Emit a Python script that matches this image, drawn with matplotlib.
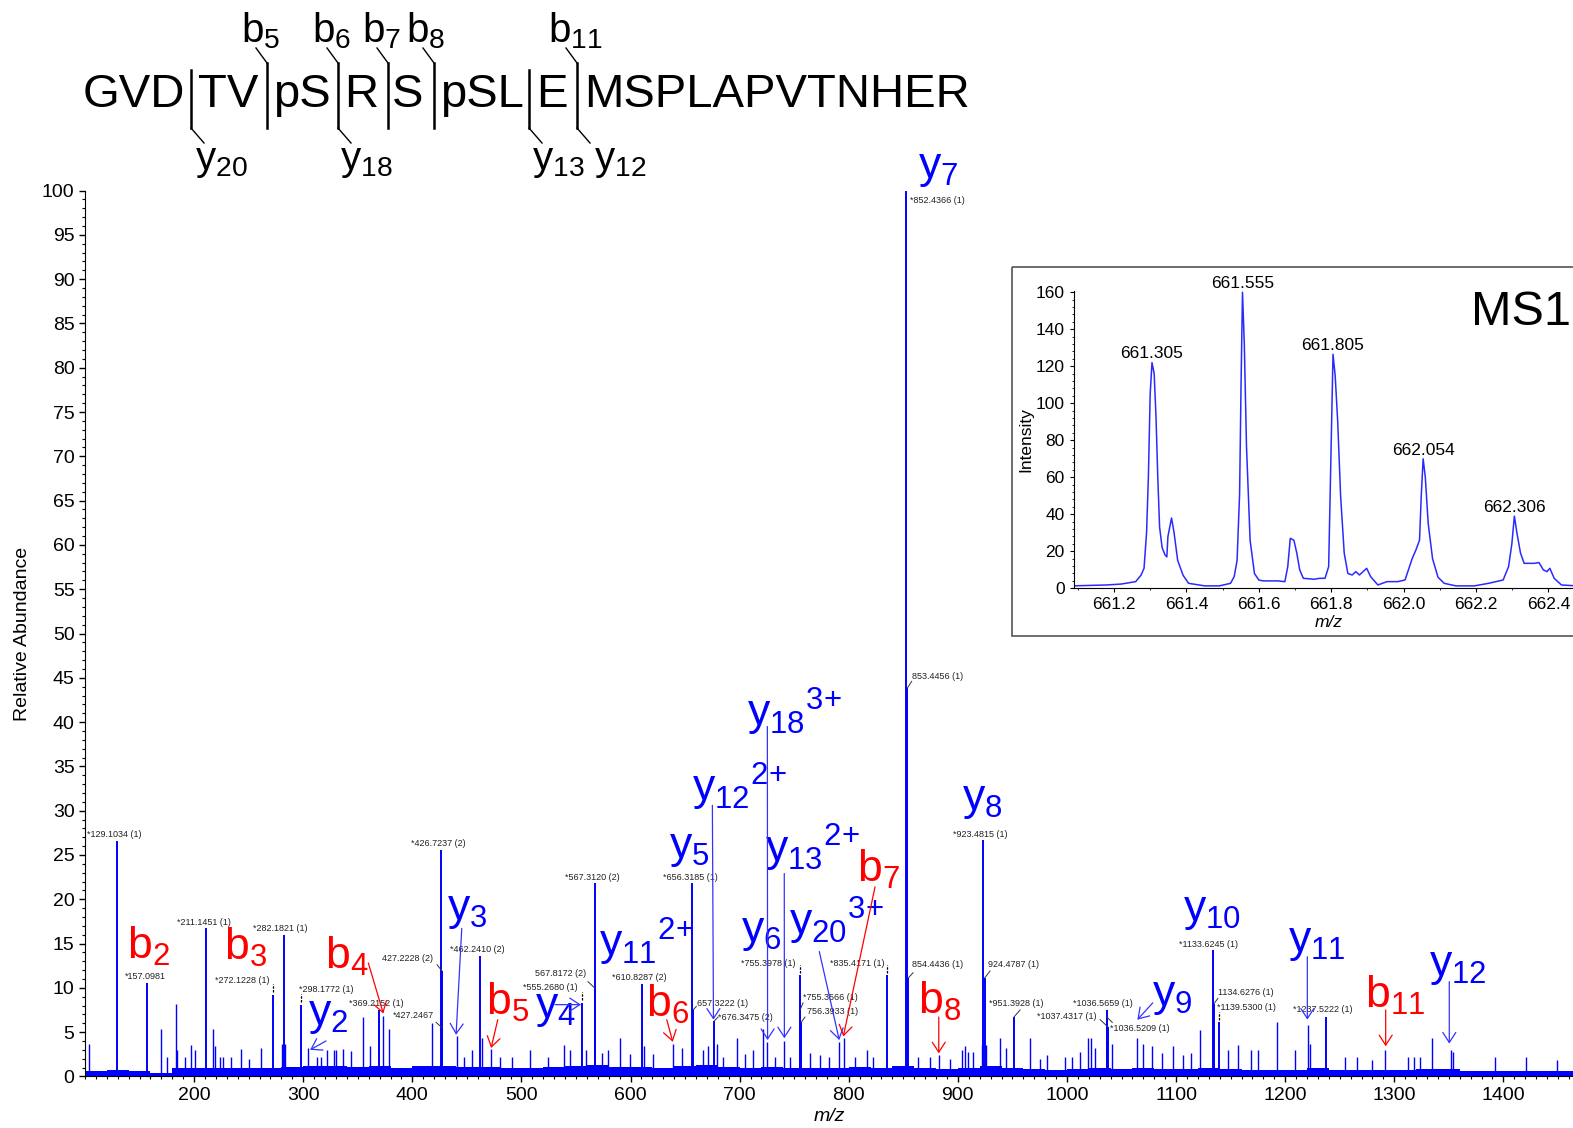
import matplotlib
matplotlib.use('Agg')
import numpy as np
import matplotlib.pyplot as plt
from matplotlib.patches import Rectangle
from matplotlib.ticker import MultipleLocator

plt.rcParams['font.family'] = ['Liberation Sans', 'DejaVu Sans']
plt.rcParams['mathtext.fontset'] = 'custom'
plt.rcParams['mathtext.rm'] = 'Liberation Sans'
plt.rcParams['mathtext.it'] = 'Liberation Sans:italic'

BLUE = '#0000ff'
RED = '#ff0000'

# ---- MS2 spectrum: annotated peaks (m/z, relative abundance) ----
ann_mz = [129.1034, 157.0981, 211.1451, 272.1228, 282.1821, 298.1772, 369.2152,
          427.2228, 427.2467, 426.7237, 462.2410, 555.2680, 567.8172, 567.3120,
          610.8287, 656.3185, 657.3222, 676.3475, 755.3978, 755.3566, 756.3933,
          835.4171, 852.4366, 853.4456, 854.4436, 923.4815, 924.4787, 951.3928,
          1036.5659, 1037.4317, 1036.5209, 1133.6245, 1134.6276, 1139.5300, 1237.5222]
ann_int = [26.6, 10.6, 16.7, 9.2, 16.0, 8.1, 7.5,
           11.9, 5.5, 25.6, 13.6, 8.3, 9.9, 21.8,
           10.4, 21.8, 7.5, 6.2, 11.4, 7.5, 6.1,
           11.4, 100.0, 43.8, 11.1, 26.7, 11.1, 6.7,
           7.5, 5.6, 6.7, 14.3, 8.2, 6.1, 6.7]
ann_star = [1, 1, 1, 1, 1, 1, 1,
            0, 1, 1, 1, 1, 0, 1,
            1, 1, 0, 1, 1, 1, 0,
            1, 1, 0, 0, 1, 0, 1,
            1, 1, 1, 1, 0, 1, 1]
ann_charge = ['1', '', '1', '1', '1', '1', '1',
              '2', '', '2', '2', '1', '2', '2',
              '2', '1', '1', '2', '1', '1', '1',
              '1', '1', '1', '1', '1', '1', '1',
              '1', '1', '1', '1', '1', '1', '1']
# where each peak label sits (left edge, vertical centre) in data units
ann_tx = [102.2, 136.7, 184.1, 219.2, 254.3, 296.5, 342.3,
          372.0, 382.1, 398.8, 434.6, 501.8, 512.5, 540.0,
          583.4, 630.1, 660.7, 680.5, 701.0, 758.4, 761.5,
          782.8, 856.2, 857.7, 857.7, 895.9, 927.9, 928.8,
          1005.8, 972.3, 1039.5, 1103.0, 1138.7, 1137.2, 1206.9]
ann_ty = [27.3, 11.3, 17.4, 10.8, 16.7, 9.8, 8.2,
          13.3, 6.9, 26.3, 14.3, 10.0, 11.6, 22.5,
          11.2, 22.5, 8.2, 6.7, 12.8, 8.9, 7.3,
          12.8, 98.9, 45.2, 12.6, 27.3, 12.6, 8.2,
          8.2, 6.8, 5.4, 14.9, 9.5, 7.8, 7.5]
# leader lines: start point near the label (None = no leader)
lead_x = [None, None, None, None, None, None, None,
          422.7, 421.8, None, None, None, 561.0, None,
          None, None, 660.3, 680.2, None, 758.1, 759.9,
          None, None, 857.7, 858.9, None, 929.5, 957.0,
          None, 1030.4, 1041.5, None, 1138.3, None, None]
lead_y = [None, None, None, None, None, None, None,
          12.6, 6.1, None, None, None, 10.7, None,
          None, None, 7.9, 6.7, None, 8.3, 6.7,
          None, None, 44.6, 11.7, None, 11.9, 7.5,
          None, 6.4, 6.1, None, 8.8, None, None]
dash_mz = [272.1228, 298.1772, 555.2680, 755.3978, 835.4171, 1139.5300]
dash_int = [9.2, 8.1, 8.3, 11.4, 11.4, 6.1]

# unlabelled fragment / noise peaks
minor_mz = [104.0, 169.4, 175.5, 183.4, 184.6, 191.4, 196.9, 200.9, 217.1, 219.2,
            223.8, 226.2, 233.6, 242.7, 250.6, 261.1, 280.3, 283.3, 304.2, 312.4,
            316.1, 321.6, 328.3, 330.1, 336.8, 343.6, 354.6, 361.2, 373.2, 378.3,
            417.8, 441.2, 447.7, 454.4, 464.2, 472.2, 480.4, 491.1, 507.9, 524.7,
            539.4, 544.6, 558.9, 573.6, 579.7, 590.4, 599.5, 612.7, 620.9, 639.2,
            646.9, 666.7, 671.3, 679.0, 685.1, 697.3, 705.0, 712.5, 721.7, 725.4,
            732.4, 741.0, 746.2, 764.5, 773.7, 782.2, 791.4, 795.3, 805.8, 816.5,
            822.0, 863.8, 874.5, 882.4, 892.8, 903.5, 906.5, 909.6, 914.2, 922.5,
            925.5, 938.6, 943.9, 966.1, 975.3, 981.4, 998.2, 1004.3, 1011.9, 1019.6,
            1022.0, 1025.7, 1041.0, 1063.9, 1070.0, 1077.7, 1086.9, 1097.5, 1106.7, 1113.7,
            1121.9, 1148.0, 1157.1, 1168.7, 1175.4, 1192.8, 1209.0, 1220.6, 1222.7, 1254.8,
            1265.5, 1279.3, 1291.5, 1312.9, 1318.4, 1323.6, 1334.9, 1351.7, 1354.1, 1392.3,
            1420.4, 1448.9]
minor_int = [3.7, 5.4, 2.2, 8.2, 3.0, 2.2, 3.6, 3.0, 5.4, 3.4,
             2.2, 2.2, 2.2, 3.1, 2.0, 3.2, 3.7, 3.7, 3.2, 2.2,
             2.2, 3.0, 3.0, 3.0, 3.1, 2.9, 6.7, 3.4, 6.8, 5.3,
             6.0, 4.6, 2.2, 3.0, 4.3, 3.1, 2.2, 2.2, 3.0, 2.2,
             3.5, 3.0, 3.0, 2.6, 3.0, 4.3, 2.5, 3.4, 2.5, 3.7,
             3.2, 3.0, 3.4, 3.7, 2.2, 4.3, 2.5, 3.0, 5.4, 3.9,
             2.2, 4.0, 2.2, 2.6, 2.4, 2.2, 3.9, 4.3, 2.2, 3.0,
             2.2, 2.2, 2.2, 2.4, 2.0, 3.0, 3.4, 2.8, 2.8, 3.6,
             3.5, 4.3, 3.2, 4.3, 2.0, 2.4, 2.2, 2.2, 2.8, 4.3,
             4.3, 3.2, 3.7, 4.3, 3.7, 3.4, 2.6, 3.4, 2.4, 2.6,
             5.2, 3.0, 3.5, 3.0, 3.0, 6.1, 3.0, 5.8, 3.7, 2.2,
             2.2, 1.9, 3.0, 2.2, 2.2, 2.2, 4.3, 3.0, 2.8, 2.2,
             2.2, 1.9]

# baseline noise level in 20 m/z bins from 100 to 1480
noise_level = [0.6, 0.7, 0.6, 0.4, 0.9, 1.0, 1.0, 1.0, 1.0, 1.1,
               1.2, 1.2, 1.1, 1.2, 1.0, 1.2, 1.2, 1.1, 1.1, 0.9,
               1.0, 1.1, 1.2, 1.3, 1.1, 1.1, 1.0, 1.2, 1.3, 1.1,
               1.0, 1.1, 1.0, 1.0, 1.0, 1.1, 0.9, 1.2, 0.9, 0.8,
               1.0, 1.2, 1.0, 0.8, 0.7, 0.8, 1.0, 0.8, 0.9, 0.8,
               0.8, 1.0, 0.8, 0.7, 0.7, 0.7, 0.9, 0.7, 0.7, 0.7,
               0.7, 0.8, 0.8, 0.6, 0.6, 0.6, 0.6, 0.6, 0.6]

# fragment ion labels
ion_text = ['b_{2}', 'b_{3}', 'b_{4}', 'y_{2}', 'y_{3}', 'b_{5}', 'y_{4}', 'y_{11}{}^{2{+}}',
            'b_{6}', 'y_{5}', 'y_{12}{}^{2{+}}', 'y_{18}{}^{3{+}}', 'y_{6}', 'y_{13}{}^{2{+}}',
            'y_{20}{}^{3{+}}', 'b_{7}', 'y_{7}', 'b_{8}', 'y_{8}', 'y_{9}', 'y_{10}', 'y_{11}',
            'b_{11}', 'y_{12}']
ion_x = [138.3, 227.4, 320.0, 304.7, 431.5, 467.5, 512.5, 571.4,
         614.2, 635.6, 656.1, 706.5, 701.0, 723.3,
         745.3, 807.8, 863.5, 863.8, 903.6, 1077.7, 1106.6, 1202.9,
         1273.2, 1332.1]
ion_y = [13.3, 13.2, 12.2, 5.8, 17.7, 6.9, 6.6, 13.5,
         6.7, 24.6, 31.0, 39.5, 15.2, 24.1,
         15.85, 22.0, 101.4, 7.1, 30.1, 7.9, 17.5, 14.1,
         7.7, 11.3]

# arrows from ion labels down to their peaks
arr_color = ['r', 'b', 'b', 'r', 'b', 'r', 'b', 'b', 'b', 'b', 'r', 'r', 'b', 'b', 'r', 'b']
arr_x0 = [359.7, 320.9, 445.3, 478.3, 530.8, 633.2, 675.0, 725.4, 740.9, 773.0, 824.1, 882.5, 1078.6, 1220.3, 1292.1, 1350.4]
arr_y0 = [12.8, 4.0, 16.7, 6.4, 8.1, 6.4, 30.6, 39.5, 22.9, 14.1, 21.4, 6.7, 8.3, 13.5, 7.5, 10.7]
arr_x1 = [373.4, 306.3, 440.1, 472.2, 554.6, 638.7, 676.0, 725.6, 741.0, 791.3, 795.0, 882.5, 1064.5, 1220.3, 1292.1, 1350.4]
arr_y1 = [7.1, 3.0, 4.7, 3.2, 8.1, 3.9, 6.4, 4.1, 4.3, 4.1, 4.5, 2.6, 6.4, 6.4, 3.4, 3.7]

# ---- MS1 isotope envelope ----
ms1_mz = [661.084, 661.180, 661.220, 661.260, 661.275, 661.283, 661.290, 661.295, 661.300, 661.305,
          661.311, 661.316, 661.321, 661.326, 661.333, 661.341, 661.346, 661.349, 661.359, 661.366,
          661.376, 661.391, 661.406, 661.451, 661.491, 661.522, 661.532, 661.540, 661.547, 661.551,
          661.555, 661.560, 661.566, 661.576, 661.588, 661.600, 661.612, 661.652, 661.672, 661.680,
          661.687, 661.697, 661.705, 661.713, 661.723, 661.753, 661.768, 661.783, 661.793, 661.800,
          661.805, 661.811, 661.818, 661.826, 661.836, 661.846, 661.858, 661.868, 661.878, 661.898,
          661.909, 661.929, 661.954, 661.984, 662.004, 662.024, 662.034, 662.044, 662.049, 662.054,
          662.060, 662.068, 662.080, 662.095, 662.112, 662.145, 662.195, 662.235, 662.275, 662.290,
          662.299, 662.306, 662.313, 662.323, 662.333, 662.345, 662.361, 662.374, 662.386, 662.396,
          662.404, 662.416, 662.436, 662.480]
ms1_int = [1.3, 1.8, 2.3, 3.6, 7.2, 10.8, 30.0, 60.0, 105.0, 122.0,
           116.0, 93.0, 60.0, 33.0, 22.0, 18.0, 17.0, 28.0, 38.0, 30.0,
           15.0, 7.0, 2.7, 1.3, 1.3, 2.7, 6.3, 15.0, 51.0, 110.0,
           160.0, 132.0, 77.0, 26.0, 8.0, 4.5, 4.0, 4.0, 3.6, 11.7,
           27.0, 26.0, 19.0, 10.0, 5.4, 4.9, 5.4, 5.4, 11.7, 78.0,
           126.5, 115.0, 90.0, 50.0, 19.0, 8.0, 7.2, 9.0, 7.2, 10.8,
           6.3, 1.8, 3.6, 3.6, 4.5, 16.2, 20.7, 26.0, 51.0, 70.0,
           60.0, 35.0, 16.0, 6.0, 2.7, 1.3, 1.3, 2.7, 4.5, 11.7,
           24.0, 39.0, 30.0, 19.0, 13.5, 13.5, 13.5, 13.9, 10.0, 9.0,
           10.8, 5.4, 1.8, 1.3]
ms1_label_mz = [661.305, 661.555, 661.805, 662.054, 662.306]
ms1_label_int = [122.0, 160.0, 126.5, 70.0, 39.0]

# ---- peptide sequence with fragment sites ----
seq_parts = ['GVD', 'TV', 'pS', 'R', 'S', 'pSL', 'E', 'MSPLAPVTNHER']
hdr_lab = ['b_{5}', 'b_{6}', 'b_{7}', 'b_{8}', 'b_{11}', 'y_{20}', 'y_{18}', 'y_{13}', 'y_{12}']
cut_has_b = [0, 1, 1, 1, 1, 0, 1]
cut_has_y = [1, 0, 1, 0, 0, 1, 1]

# layout (pixels of the 1573 x 1128 canvas)
seq_x = [83, 198, 273, 344, 392, 440, 536, 584]
cut_x = [191, 267, 338, 388, 434, 529, 577]
hdr_lab_x = [241, 312, 362, 406, 548, 195, 340, 532, 594]
hdr_lab_y = [42, 42, 42, 42, 42, 170, 170, 170, 170]

W, H = 1573, 1128
fig = plt.figure(figsize=(W / 100, H / 100), dpi=100)

# main spectrum axes
ax = fig.add_axes([85 / W, (H - 1076.4) / H, (1574 - 85) / W, (1076.4 - 190.6) / H])
edges = np.arange(100, 1481, 20)
ax.fill_between(edges, np.append(noise_level, noise_level[-1]), step='post',
                color=BLUE, lw=0, zorder=1)
ax.vlines(minor_mz, 0, minor_int, color=BLUE, lw=1.0, zorder=2)
ax.vlines(ann_mz, 0, ann_int, color=BLUE, lw=1.4, zorder=3)

for i, mz in enumerate(ann_mz):
    txt = ('*' if ann_star[i] else '') + f'{mz:.4f}'
    if ann_charge[i]:
        txt += f' ({ann_charge[i]})'
    ax.text(ann_tx[i], ann_ty[i], txt, fontsize=6.5, color='#222222',
            ha='left', va='center', zorder=5)
    if lead_x[i] is not None:
        ax.plot([lead_x[i], mz], [lead_y[i], ann_int[i]], color='#333333', lw=0.7, zorder=4)
ax.vlines(dash_mz, np.array(dash_int) + 0.3, np.array(dash_int) + 1.2,
          color='k', lw=0.9, linestyles=(0, (2, 1)), zorder=4)

for t, x, y in zip(ion_text, ion_x, ion_y):
    c = RED if t.startswith('b') else BLUE
    ax.text(x, y, r'$\mathregular{' + t + '}$', fontsize=32, color=c,
            ha='left', va='baseline', zorder=6)

for c, x0, y0, x1, y1 in zip(arr_color, arr_x0, arr_y0, arr_x1, arr_y1):
    col = RED if c == 'r' else '#3333ff'
    ax.annotate('', xy=(x1, y1), xytext=(x0, y0),
                arrowprops=dict(arrowstyle='->,head_length=0.4,head_width=0.26',
                                color=col, lw=0.9, shrinkA=0, shrinkB=0,
                                mutation_scale=18), zorder=6)

ax.set_xlim(100, 1464.7)
ax.set_ylim(0, 100)
ax.set_xticks(range(200, 1500, 100))
ax.xaxis.set_minor_locator(MultipleLocator(10))
ax.set_yticks(range(0, 101, 5))
ax.yaxis.set_minor_locator(MultipleLocator(1))
ax.tick_params(which='major', length=4, width=1, labelsize=14, direction='out')
ax.tick_params(which='minor', length=2, width=0.8, direction='out')
for s in ('top', 'right'):
    ax.spines[s].set_visible(False)
ax.set_xlabel('m/z', style='italic', fontsize=14, labelpad=3)
ax.set_ylabel('Relative Abundance', fontsize=14, labelpad=8)
ax.patch.set_alpha(0)

# overlay in pixel units for the sequence header and inset frame
ov = fig.add_axes([0, 0, 1, 1])
ov.set_xlim(0, W)
ov.set_ylim(H, 0)
ov.axis('off')
for seg, x in zip(seq_parts, seq_x):
    ov.text(x, 107, seg, fontsize=34, ha='left', va='baseline', color='k')
for x, hb, hy in zip(cut_x, cut_has_b, cut_has_y):
    top = 63 if hb else 70
    ov.plot([x, x], [top, 128], color='k', lw=1.8)
    if hb:
        ov.plot([x, x - 11], [63, 48], color='k', lw=1.0)
    if hy:
        ov.plot([x, x + 13], [128, 143], color='k', lw=1.0)
for t, x, y in zip(hdr_lab, hdr_lab_x, hdr_lab_y):
    ov.text(x, y, r'$\mathregular{' + t + '}$', fontsize=29, ha='left', va='baseline', color='k')
ov.add_patch(Rectangle((1012, 266.5), 620, 369.5, fill=False, ec='#555555', lw=1.2))

# MS1 inset
ins = fig.add_axes([1073.8 / W, (H - 588.3) / H, (1584.6 - 1073.8) / W, (588.3 - 291) / H])
ins.plot(ms1_mz, ms1_int, color='#2a2aff', lw=1.1)
for mz, it in zip(ms1_label_mz, ms1_label_int):
    ins.annotate(f'{mz:.3f}', xy=(mz, it), xytext=(0, 3), textcoords='offset points',
                 ha='center', va='baseline', fontsize=12.5)
ins.text(1470.6, 325, 'MS1', transform=ov.transData, fontsize=35, ha='left', va='baseline')
ins.set_xlim(661.089, 662.5)
ins.set_ylim(0, 160.7)
ins.set_xticks([661.2, 661.4, 661.6, 661.8, 662.0, 662.2, 662.4])
ins.xaxis.set_minor_locator(MultipleLocator(0.1))
ins.set_yticks(range(0, 161, 20))
ins.yaxis.set_minor_locator(MultipleLocator(4))
ins.tick_params(which='major', length=3, labelsize=12.5)
ins.tick_params(which='minor', length=1.5)
for s in ('top', 'right'):
    ins.spines[s].set_visible(False)
ins.set_xlabel('m/z', style='italic', fontsize=12.5, labelpad=2)
ins.set_ylabel('Intensity', fontsize=12.5, labelpad=2)

fig.savefig('out.png', dpi=100)
